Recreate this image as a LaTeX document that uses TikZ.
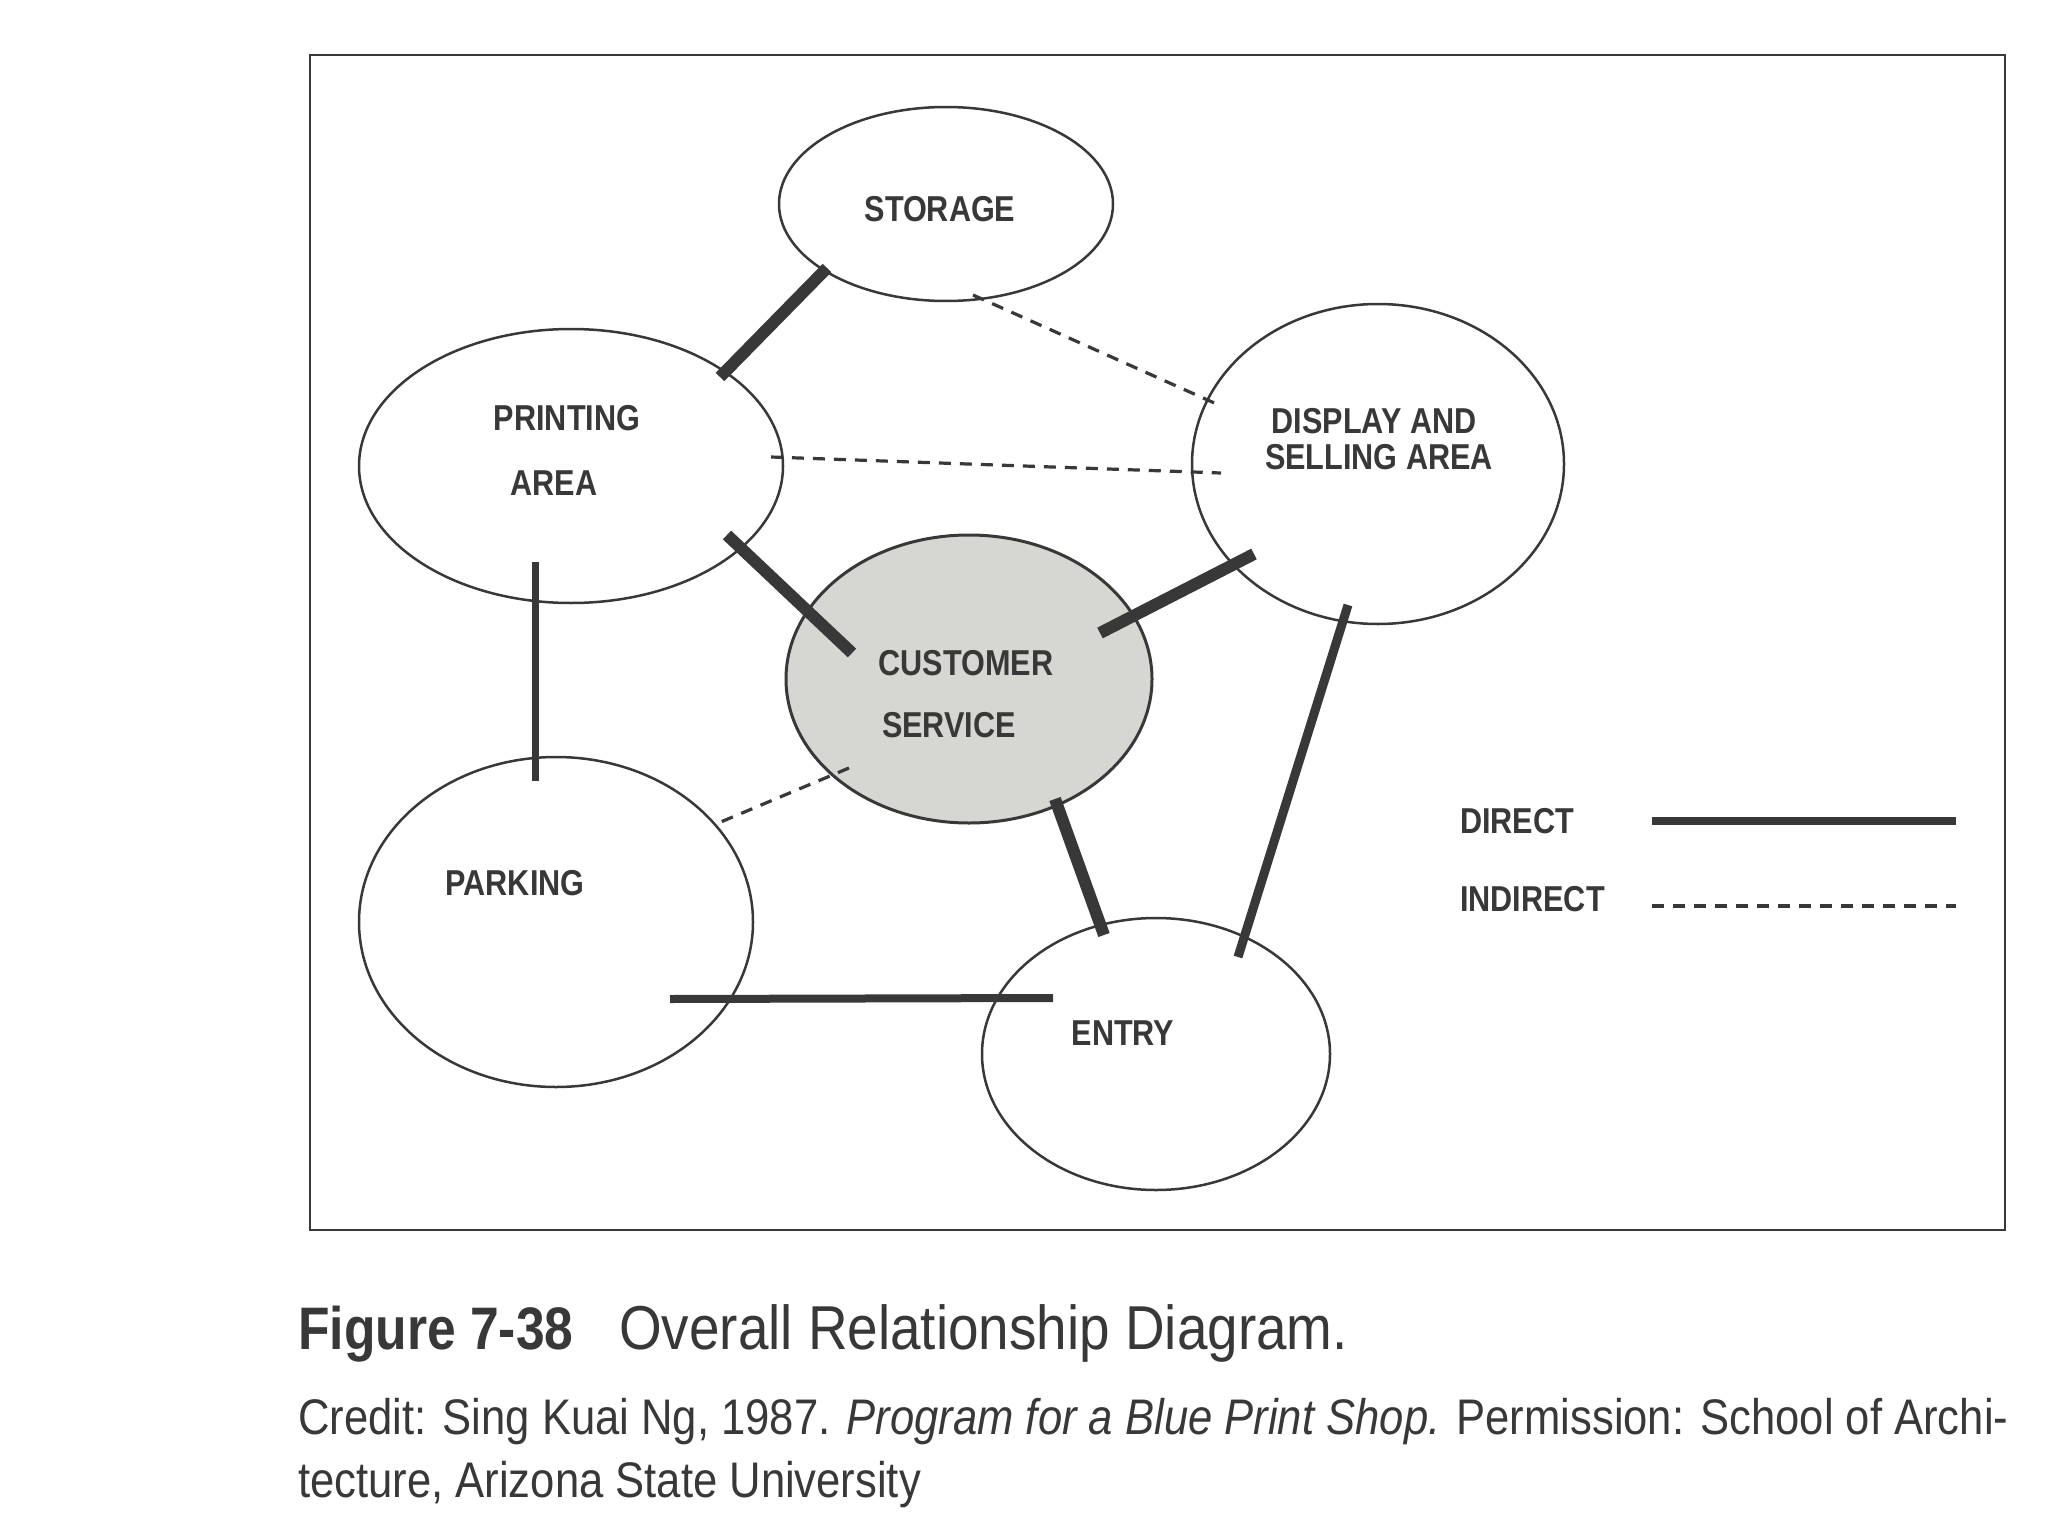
\documentclass[tikz,border=0pt]{standalone}
\usepackage{fontspec}
\setmainfont{Liberation Sans}
\newfontfamily\lblfont[FakeStretch=0.85]{Liberation Sans}
\newfontfamily\capfont[FakeStretch=0.86]{Liberation Sans}
\newfontfamily\captfont[FakeStretch=0.885]{Liberation Sans}
\newfontfamily\credfont[FakeStretch=0.872]{Liberation Sans}
\usetikzlibrary{shapes.geometric}
\definecolor{ink}{gray}{0.22}
\definecolor{csfill}{RGB}{214,215,210}
\tikzset{
  room/.style={ellipse, draw=ink, line width=2.5pt, inner sep=0pt},
  lbl/.style={font=\lblfont\bfseries\fontsize{36}{40}\selectfont, text=ink, inner sep=0pt},
  direct/.style={draw=ink, line width=12pt},
  directmid/.style={draw=ink, line width=8pt},
  indirect/.style={draw=ink, line width=3.2pt, dash pattern=on 12pt off 9pt},
  captxt/.style={font=\captfont\fontsize{62}{72}\selectfont, text=ink, inner sep=0pt, anchor=base west},
  credtxt/.style={font=\credfont\fontsize{50}{60}\selectfont, text=ink, inner sep=0pt, anchor=base west}
}
\begin{document}
\begin{tikzpicture}[x=1pt,y=-1pt]
\useasboundingbox (0,0) rectangle (2048,1536);
\fill[white] (0,0) rectangle (2048,1536);
% frame
\draw[ink, line width=2.5pt] (310,55) rectangle (2005,1230);
% rooms
\node[room, minimum width=334pt, minimum height=194pt] (sto) at (946,204) {};
\node[room, minimum width=424pt, minimum height=274pt] (pri) at (571,466) {};
\node[room, minimum width=372pt, minimum height=320pt] (dis) at (1378,464) {};
\node[room, fill=csfill, line width=3pt, minimum width=366pt, minimum height=288pt] (cus) at (969,679) {};
\node[room, minimum width=394pt, minimum height=330pt] (par) at (556,922) {};
\node[room, minimum width=348pt, minimum height=272pt] (ent) at (1156,1054) {};
% labels
\node[lbl] (tsto) at (940,209) {STORAGE};
\node[lbl] (tpri1) at (567,418) {PRINTING};
\node[lbl] (tpri2) at (554,483) {AREA};
\node[lbl] (tdis1) at (1374,421) {DISPLAY AND};
\node[lbl] (tdis2) at (1379,457) {SELLING AREA};
\node[lbl] (tcus1) at (966,663) {CUSTOMER};
\node[lbl] (tcus2) at (949,725) {SERVICE};
\node[lbl] (tpar) at (515,883) {PARKING};
\node[lbl] (tent) at (1123,1033) {ENTRY};
% connector end points
\coordinate (sp1) at (827,268);  \coordinate (sp2) at (720,377);
\coordinate (sd1) at (973,295);  \coordinate (sd2) at (1221,406);
\coordinate (pd1) at (771,457);  \coordinate (pd2) at (1221,473);
\coordinate (pc1) at (727,535);  \coordinate (pc2) at (852,653);
\coordinate (dc1) at (1254,554); \coordinate (dc2) at (1100,633);
\coordinate (pp1) at (535,562);  \coordinate (pp2) at (535,781);
\coordinate (cp1) at (849,768);  \coordinate (cp2) at (716,824);
\coordinate (ce1) at (1055,799); \coordinate (ce2) at (1104,935);
\coordinate (de1) at (1348,605); \coordinate (de2) at (1238,957);
\coordinate (pe1) at (670,999);  \coordinate (pe2) at (1053,998);
% connectors
\draw[direct] (sp1) -- (sp2);
\draw[indirect] (sd1) -- (sd2);
\draw[indirect] (pd1) -- (pd2);
\draw[direct] (pc1) -- (pc2);
\draw[direct] (dc1) -- (dc2);
\draw[directmid, line width=7pt] (pp1) -- (pp2);
\draw[indirect] (cp1) -- (cp2);
\draw[direct] (ce1) -- (ce2);
\draw[directmid, line width=9pt] (de1) -- (de2);
\draw[directmid] (pe1) -- (pe2);
% legend
\node[lbl, anchor=west] (ldir) at (1460,821) {DIRECT};
\node[lbl, anchor=west] (lind) at (1460,899) {INDIRECT};
\coordinate (ld1) at (1652,821); \coordinate (ld2) at (1956,821);
\coordinate (li1) at (1652,906); \coordinate (li2) at (1956,906);
\draw[directmid] (ld1) -- (ld2);
\draw[indirect] (li1) -- (li2);
% caption
\node[captxt, font=\capfont\bfseries\fontsize{60}{72}\selectfont] (fig) at (298,1349) {Figure 7-38};
\node[captxt] (figt) at (619,1349) {Overall Relationship Diagram.};
\node[credtxt] (cred1) at (298,1434) {Credit: Sing Kuai Ng, 1987. \textit{Program for a Blue Print Shop.} Permission: School of Archi-};
\node[credtxt] (cred2) at (298,1497) {tecture, Arizona State University};
\end{tikzpicture}
\end{document}
